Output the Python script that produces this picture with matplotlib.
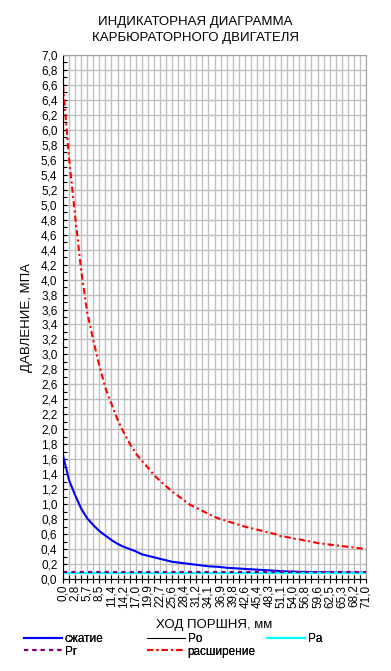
import matplotlib
matplotlib.use('Agg')
import matplotlib.pyplot as plt
from matplotlib.ticker import MultipleLocator

plt.rcParams['font.family'] = ['Liberation Sans', 'DejaVu Sans']

# piston stroke, mm (category axis)
stroke_mm = [0.00, 1.42, 2.84, 4.26, 5.68, 7.10, 8.52, 9.94, 11.36, 12.78,
             14.20, 15.62, 17.04, 18.46, 19.88, 21.30, 22.72, 24.14, 25.56, 26.98,
             28.40, 29.82, 31.24, 32.66, 34.08, 35.50, 36.92, 38.34, 39.76, 41.18,
             42.60, 44.02, 45.44, 46.86, 48.28, 49.70, 51.12, 52.54, 53.96, 55.38,
             56.80, 58.22, 59.64, 61.06, 62.48, 63.90, 65.32, 66.74, 68.16, 69.58,
             71.00]

# compression line, MPa
p_compr = [1.65, 1.32, 1.12, 0.94, 0.81, 0.72, 0.64, 0.58, 0.52, 0.47,
           0.43, 0.40, 0.37, 0.33, 0.31, 0.29, 0.27, 0.25, 0.23, 0.22,
           0.21, 0.20, 0.19, 0.18, 0.17, 0.165, 0.16, 0.15, 0.145, 0.14,
           0.135, 0.13, 0.125, 0.12, 0.115, 0.11, 0.105, 0.10, 0.10, 0.095,
           0.095, 0.09, 0.09, 0.09, 0.09, 0.085, 0.085, 0.085, 0.085, 0.085,
           0.085]

# expansion line, MPa
p_expan = [6.60, 5.62, 4.85, 4.12, 3.56, 3.19, 2.85, 2.55, 2.34, 2.13,
           1.96, 1.81, 1.68, 1.58, 1.49, 1.39, 1.31, 1.24, 1.17, 1.11,
           1.05, 0.99, 0.95, 0.91, 0.87, 0.83, 0.80, 0.775, 0.75, 0.725,
           0.70, 0.68, 0.66, 0.64, 0.62, 0.60, 0.57, 0.56, 0.54, 0.53,
           0.51, 0.50, 0.48, 0.47, 0.46, 0.45, 0.44, 0.43, 0.42, 0.41,
           0.40]

p_o = 0.08   # ambient
p_a = 0.075  # end of intake
p_r = 0.10   # residual gases

fig = plt.figure(figsize=(3.91, 6.71), dpi=100)
ax = fig.add_axes([63/391, 1-579/671, (366-63)/391, (579-55)/671])

n = len(stroke_mm)
l1, = ax.plot(stroke_mm, p_compr, color='#0000ff', lw=1.5, label='сжатие')
l2, = ax.plot(stroke_mm, [p_o]*n, color='black', lw=0.75, label='Po')
l3, = ax.plot(stroke_mm, [p_a]*n, color='#00ffff', lw=1.5, label='Pa')
l4, = ax.plot(stroke_mm, [p_r]*n, color='#800080', lw=1.5, dashes=(2, 2), label='Pr')
l5, = ax.plot(stroke_mm, p_expan, color='#ff0000', lw=1.5, dashes=(3, 1.5, 1, 1.5),
              label='расширение')

ax.set_xlim(stroke_mm[0], stroke_mm[-1])

ax.set_xticks(stroke_mm)
ax.set_xticklabels([f'{v:.1f}'.replace('.', ',') if i % 2 == 0 else ''
                    for i, v in enumerate(stroke_mm)], rotation=90, fontsize=8.5)
ax.yaxis.set_major_locator(MultipleLocator(0.2))
ax.yaxis.set_minor_locator(MultipleLocator(0.1))
ax.set_ylim(0, 7.0)
yt = [v for v in ax.get_yticks() if -0.01 <= v <= 7.01]
ax.set_yticks(yt)
ax.set_yticklabels([f'{v:.1f}'.replace('.', ',') for v in yt], fontsize=8.5)
ax.set_ylim(0, 7.0)

ax.tick_params(axis='x', direction='inout', length=6, width=0.8, pad=1)
ax.tick_params(axis='y', which='both', direction='in', length=3, width=0.8, pad=4)
ax.grid(True, which='major', color='#c0c0c0', lw=1)
ax.set_axisbelow(True)
for s in ['top', 'right']:
    ax.spines[s].set_color('#a0a0a0')
for s in ['left', 'bottom']:
    ax.spines[s].set_color('black')

ax.set_xlabel('ХОД ПОРШНЯ, мм', fontsize=9.5, labelpad=8)
ax.set_ylabel('ДАВЛЕНИЕ, МПА', fontsize=9.5, labelpad=6)

fig.text(0.5, 1-30/671, 'ИНДИКАТОРНАЯ ДИАГРАММА\nКАРБЮРАТОРНОГО ДВИГАТЕЛЯ',
         ha='center', va='center', fontsize=9.5, linespacing=1.55)

# legend laid out as an Excel grid: three fixed columns
leg_kw = dict(loc='upper left', frameon=False, fontsize=8.5, handlelength=3.2,
              handletextpad=0.25, labelspacing=0.05, borderpad=0, borderaxespad=0)
top = 1 - 633/671
for handles, x0 in [([l1, l4], 24), ([l2, l5], 147), ([l3], 267)]:
    leg = fig.legend(handles, [h.get_label() for h in handles],
                     bbox_to_anchor=(x0/391, top), **leg_kw)
    fig.add_artist(leg)

fig.savefig('out.png', dpi=100)
